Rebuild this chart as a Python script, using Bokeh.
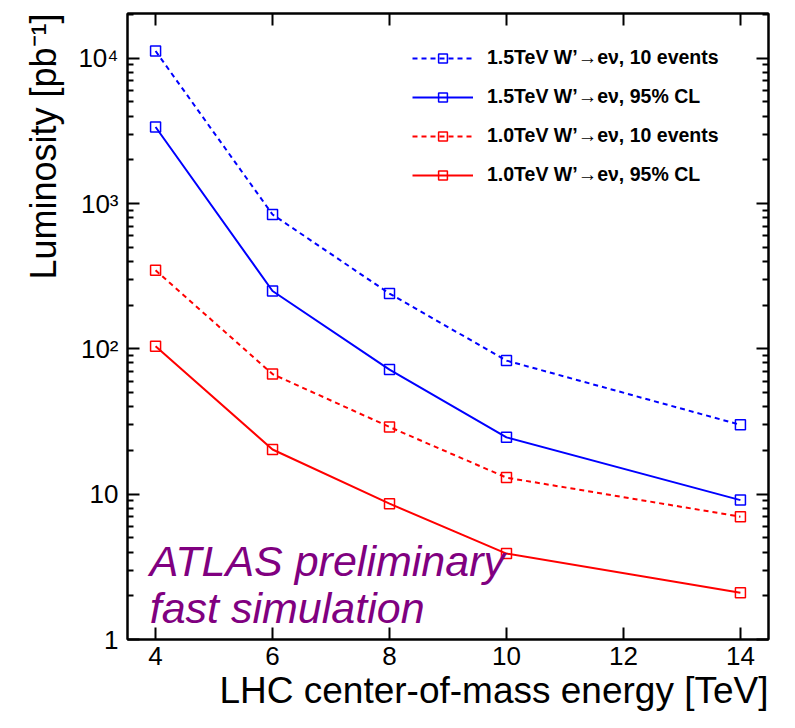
from bokeh.plotting import figure
from bokeh.models import (FixedTicker, LinearAxis, LogAxis, Legend, LegendItem,
                          Label, CustomJSTickFormatter, Range1d, Title)
from bokeh.embed import file_html
from bokeh.resources import INLINE

# ---- data ----
energy = [4, 6, 8, 10, 14]
w15_10events = [11200, 840, 240, 83, 30]
w15_cl95 = [3360, 250, 72, 24.6, 9.1]
w10_10events = [347, 67, 29, 13, 7.0]
w10_cl95 = [104, 20.3, 8.6, 3.9, 2.1]

x_ticks = [4, 6, 8, 10, 12, 14]
y_ticks = [1, 10, 100, 1000, 10000]
y_tick_labels = ["1", "10", "10²", "10³", "10⁴"]
y_minor = [m * 10 ** k for k in range(0, 5) for m in range(2, 10)]

series_names = [
    "1.5TeV W’→eν, 10 events",
    "1.5TeV W’→eν, 95% CL",
    "1.0TeV W’→eν, 10 events",
    "1.0TeV W’→eν, 95% CL",
]
series_values = [w15_10events, w15_cl95, w10_10events, w10_cl95]
series_colors = ["#0000ff", "#0000ff", "#ff0000", "#ff0000"]
series_dash = ["5 4", "solid", "5 4", "solid"]

x_title = "LHC center-of-mass energy [TeV]"
y_title = "Luminosity [pb⁻¹]"

FONT = "Liberation Sans"

p = figure(width=779, height=712, x_range=Range1d(3.52, 14.48),
           y_range=Range1d(1, 20300), y_axis_type="log",
           output_backend="svg", toolbar_location=None,
           min_border_left=127, min_border_right=11,
           min_border_top=13, min_border_bottom=73)
p.grid.visible = False
p.outline_line_color = "black"
p.outline_line_width = 2
p.background_fill_color = "white"

xticker = FixedTicker(ticks=x_ticks, minor_ticks=[])
yticker = FixedTicker(ticks=y_ticks, minor_ticks=y_minor)


def style_axis(ax, major_len):
    ax.axis_line_color = "black"
    ax.axis_line_width = 2
    ax.major_tick_line_color = "black"
    ax.major_tick_line_width = 2
    ax.minor_tick_line_color = "black"
    ax.minor_tick_line_width = 2
    ax.major_tick_in = major_len
    ax.major_tick_out = 0
    ax.minor_tick_in = 6
    ax.minor_tick_out = 0


xa = p.xaxis[0]
xa.ticker = xticker
style_axis(xa, 12)
xa.major_label_text_font = FONT
xa.major_label_text_font_size = "26px"
xa.major_label_text_color = "black"
xa.major_label_standoff = 7

ya = p.yaxis[0]
ya.ticker = yticker
style_axis(ya, 12)
ya.major_label_overrides = dict(zip(y_ticks, y_tick_labels))
ya.major_label_text_font = FONT
ya.major_label_text_font_size = "26px"
ya.major_label_text_color = "black"
ya.major_label_standoff = 9

empty = CustomJSTickFormatter(code="return ''")
top = LinearAxis(ticker=xticker, formatter=empty, major_label_text_font_size="0px",
                 major_label_standoff=0)
style_axis(top, 12)
p.add_layout(top, "above")
right = LogAxis(ticker=yticker, formatter=empty, major_label_text_font_size="0px",
                major_label_standoff=0)
style_axis(right, 12)
p.add_layout(right, "right")

# axis titles, right/top aligned as in the ROOT original
p.add_layout(Title(text=x_title, align="right", text_font=FONT,
                   text_font_style="normal", text_font_size="37px",
                   text_color="black", standoff=0, offset=0), "below")
p.add_layout(Title(text=y_title, align="right", text_font=FONT,
                   text_font_style="normal", text_font_size="36px",
                   text_color="black", standoff=24, offset=0), "left")

items = []
for name, vals, col, dash in zip(series_names, series_values, series_colors, series_dash):
    ln = p.line(energy, vals, line_color=col, line_width=2, line_dash=dash)
    mk = p.scatter(energy, vals, marker="square", size=10, fill_color=None,
                   line_color=col, line_width=1.5)
    items.append(LegendItem(label=name, renderers=[ln, mk]))

legend = Legend(items=items, location=(285, 453), padding=0, margin=0,
                border_line_alpha=0, background_fill_alpha=0,
                glyph_width=61, glyph_height=22, label_height=22,
                label_standoff=14, spacing=16,
                label_text_font=FONT, label_text_font_style="bold",
                label_text_font_size="19.5px", label_text_color="black")
p.add_layout(legend, "center")

for txt, yy in [("ATLAS preliminary", 3.45), ("fast simulation", 1.64)]:
    p.add_layout(Label(x=3.9, y=yy, text=txt, text_font=FONT,
                       text_font_style="italic", text_font_size="43px",
                       text_color="#800080", text_baseline="alphabetic"))

open("out.html", "w").write(file_html(p, INLINE))
